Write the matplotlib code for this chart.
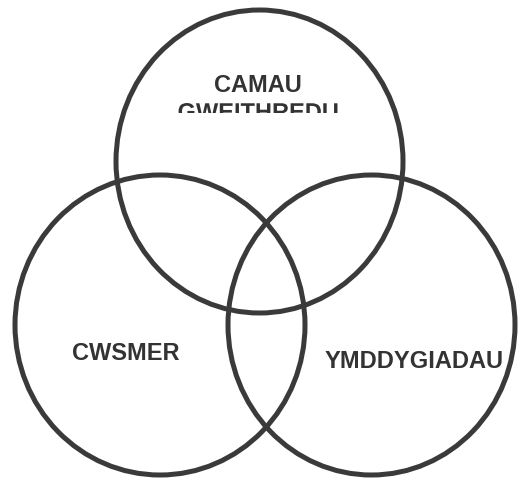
import matplotlib
matplotlib.use("Agg")
import matplotlib.pyplot as plt
from matplotlib.patches import Ellipse, Rectangle, PathPatch
from matplotlib.textpath import TextPath
from matplotlib.font_manager import FontProperties
from matplotlib.transforms import Affine2D

# the three sets of the diagram
labels = ["CAMAU", "CWSMER", "YMDDYGIADAU"]
# second line of the top label, cut off in the original
top_second_line = "GWEITHREDU"

# layout in pixel units (image is slightly stretched vertically)
centers = [(259.5, 161.5), (160, 325), (371.5, 325)]
widths = [287, 290, 287]
heights = [303, 300, 300]
label_pos = [(258, 85.5), (126, 354), (414, 361)]

line_col = "#3a3a3a"
text_col = "#333333"

fig = plt.figure(figsize=(5.2, 4.79), dpi=100)
ax = fig.add_axes([0, 0, 1, 1])
ax.set_xlim(0, 520)
ax.set_ylim(479, 0)
ax.axis("off")

for (cx, cy), w, h in zip(centers, widths, heights):
    ax.add_patch(Ellipse((cx, cy), w, h, fill=False, edgecolor=line_col, linewidth=3.6))

for lab, (x, y) in zip(labels, label_pos):
    ax.text(x, y, lab, ha="center", va="center", fontsize=17, fontweight="bold",
            family="Liberation Sans", color=text_col)

# the second line is drawn as a path so it can be clipped like in the original
fp = FontProperties(family="Liberation Sans", weight="bold")
tp = TextPath((0, 0), top_second_line, size=17 * 100 / 72, prop=fp)
ext = tp.get_extents()
baseline = 119.5
tr = Affine2D().scale(1, -1).translate(label_pos[0][0] - (ext.x0 + ext.x1) / 2, baseline) + ax.transData
pp = PathPatch(tp, transform=tr, facecolor=text_col, edgecolor="none")
ax.add_patch(pp)
clip = Rectangle((0, 112.5), 520, -112.5, transform=ax.transData)
pp.set_clip_path(clip)

fig.savefig("out.png", dpi=100)
